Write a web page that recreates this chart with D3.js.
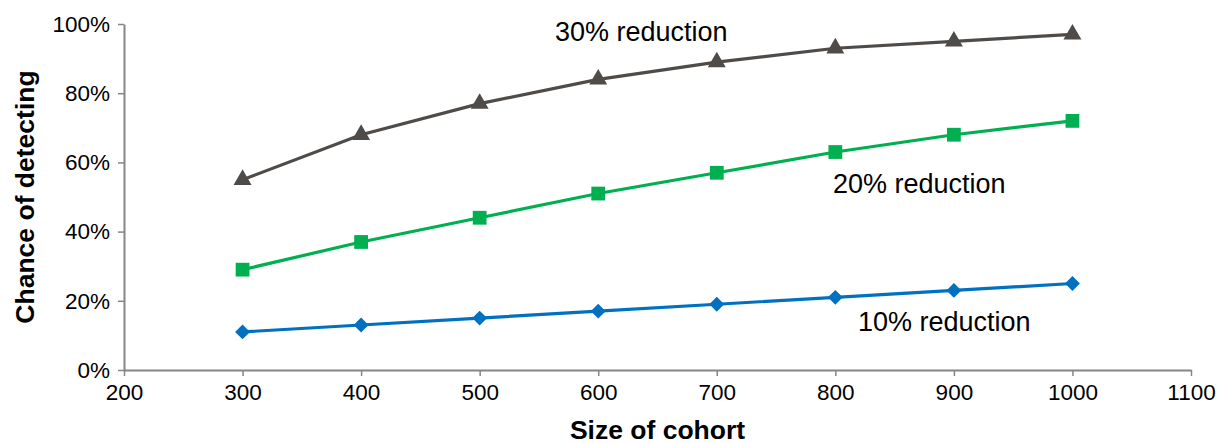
<!DOCTYPE html>
<html><head><meta charset="utf-8">
<script src="https://cdn.jsdelivr.net/npm/d3@7"></script>
<style>body{margin:0;background:#fff}svg{display:block}text{font-family:"Liberation Sans",Arial,sans-serif}</style>
</head><body><svg id="c" width="1218" height="444"></svg>
<script>
const cohort = [300, 400, 500, 600, 700, 800, 900, 1000];
const red30 = [55, 68, 77, 84, 89, 93, 95, 97];
const red20 = [29, 37, 44, 51, 57, 63, 68, 72];
const red10 = [11, 13, 15, 17, 19, 21, 23, 25];
const xTicks = [200, 300, 400, 500, 600, 700, 800, 900, 1000, 1100];
const yTicks = [0, 20, 40, 60, 80, 100];
const seriesNames = ["30% reduction", "20% reduction", "10% reduction"];

const svg = d3.select("#c");
const x = d3.scaleLinear().domain([200, 1100]).range([124, 1191]);
const y = d3.scaleLinear().domain([0, 100]).range([370, 24]);
const axisColor = "#868686";

const gx = svg.append("g").attr("transform", `translate(0,${y(0)})`)
  .call(d3.axisBottom(x).tickValues(xTicks).tickSize(6).tickSizeOuter(0).tickPadding(8).tickFormat(d => String(d)));
const gy = svg.append("g").attr("transform", `translate(${x(200)},0)`)
  .call(d3.axisLeft(y).tickValues(yTicks).tickSize(6).tickSizeOuter(0).tickPadding(8).tickFormat(d => d + "%"));
[gx, gy].forEach(g => {
  g.attr("font-size", null).attr("font-family", null);
  g.select(".domain").attr("stroke", axisColor).attr("stroke-width", 2);
  g.selectAll(".tick line").attr("stroke", axisColor).attr("stroke-width", 1.5);
  g.selectAll(".tick text").attr("fill", "#000").style("font-size", "22.5px")
   .style("font-family", '"Liberation Sans",Arial,sans-serif');
});

const series = [
  {vals: red30, color: "#4f4b48", sym: d3.symbolTriangle, size: 140, rot: 0, name: seriesNames[0], lx: 555, ly: 41},
  {vals: red20, color: "#00b050", sym: d3.symbolSquare, size: 190, rot: 0, name: seriesNames[1], lx: 833, ly: 193},
  {vals: red10, color: "#0070c0", sym: d3.symbolSquare, size: 110, rot: 45, name: seriesNames[2], lx: 858, ly: 331}
];
const line = d3.line().x((d, i) => x(cohort[i])).y(d => y(d));
series.forEach(s => {
  svg.append("path").attr("d", line(s.vals)).attr("fill", "none")
    .attr("stroke", s.color).attr("stroke-width", 3.2);
  svg.selectAll(null).data(s.vals).enter().append("path")
    .attr("d", d3.symbol().type(s.sym).size(s.size))
    .attr("transform", (d, i) => `translate(${x(cohort[i])},${y(d)}) rotate(${s.rot})`)
    .attr("fill", s.color);
  svg.append("text").attr("x", s.lx).attr("y", s.ly).text(s.name)
    .style("font-size", "27px").attr("fill", "#000");
});

svg.append("text").attr("x", (x(200) + x(1100)) / 2).attr("y", 439)
  .attr("text-anchor", "middle").style("font-size", "26.5px").style("font-weight", "bold").text("Size of cohort");
svg.append("text").attr("transform", `translate(34,${(y(0) + y(100)) / 2}) rotate(-90)`)
  .attr("text-anchor", "middle").style("font-size", "26.5px").style("font-weight", "bold").text("Chance of detecting");
</script></body></html>
